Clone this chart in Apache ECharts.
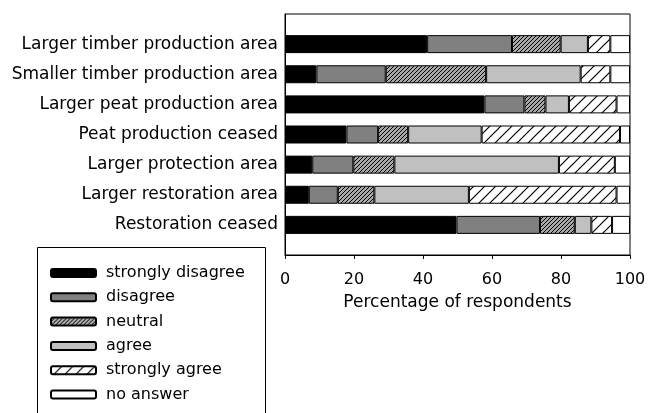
<!DOCTYPE html>
<html>
<head>
<meta charset="utf-8">
<script src="https://cdn.jsdelivr.net/npm/echarts@6/dist/echarts.min.js"></script>
<style>
  html, body { margin: 0; padding: 0; background: #fff; }
  #chart { width: 655px; height: 413px; }
</style>
</head>
<body>
<div id="chart"></div>
<script>
  // categories, top to bottom (blank entries pad the axis ends)
  const categories = ['', 'Larger timber production area', 'Smaller timber production area',
    'Larger peat production area', 'Peat production ceased', 'Larger protection area',
    'Larger restoration area', 'Restoration ceased', '']
  const answers = ['strongly disagree', 'disagree', 'neutral', 'agree', 'strongly agree', 'no answer']

  // percentages per answer, same order as categories
  const stronglyDisagree = ['-', 41.2, 9.1, 57.8, 17.8, 7.9, 6.9, 49.7, '-']
  const disagree = ['-', 24.6, 20.1, 11.6, 9.2, 11.9, 8.4, 24.2, '-']
  const neutral = ['-', 14.1, 29.1, 6.1, 8.7, 11.9, 10.6, 10.1, '-']
  const agree = ['-', 7.9, 27.4, 6.8, 21.3, 47.7, 27.4, 4.8, '-']
  const stronglyAgree = ['-', 6.5, 8.6, 13.8, 40.1, 16.2, 42.8, 6.0, '-']
  const noAnswer = ['-', 5.7, 5.7, 3.9, 2.9, 4.4, 3.9, 5.2, '-']

  const xTicks = { min: 0, max: 100, interval: 20 }

  // diagonal hatch pattern
  function hatch(bg, step, width) {
    const c = document.createElement('canvas')
    c.width = step
    c.height = step
    const ctx = c.getContext('2d')
    ctx.fillStyle = bg
    ctx.fillRect(0, 0, step, step)
    ctx.strokeStyle = '#000'
    ctx.lineWidth = width
    ctx.beginPath()
    ctx.moveTo(-1, step + 1)
    ctx.lineTo(step + 1, -1)
    ctx.moveTo(-1, 1)
    ctx.lineTo(1, -1)
    ctx.moveTo(step - 1, step + 1)
    ctx.lineTo(step + 1, step - 1)
    ctx.stroke()
    return { image: c, repeat: 'repeat' }
  }

  const fills = ['#000000', '#808080', hatch('#a8a8a8', 4, 1), '#c0c0c0', hatch('#ffffff', 11, 1.2), '#ffffff']
  const values = [stronglyDisagree, disagree, neutral, agree, stronglyAgree, noAnswer]

  const chart = echarts.init(document.getElementById('chart'))
  const font = 'DejaVu Sans, sans-serif'

  chart.setOption({
    animation: false,
    grid: {
      left: 285, right: 25, top: 14, bottom: 158,
      show: true, borderColor: '#000', borderWidth: 1,
    },
    // legend frame, runs off the bottom like the original
    graphic: [{
      type: 'rect',
      shape: { x: 37.5, y: 247.5, width: 228, height: 200 },
      style: { fill: 'none', stroke: '#000', lineWidth: 1 },
    }],
    legend: {
      orient: 'vertical',
      left: 50, top: 265,
      padding: 0,
      itemWidth: 45, itemHeight: 8, itemGap: 8.3,
      icon: 'roundRect',
      textStyle: { fontFamily: font, fontSize: 16, lineHeight: 16, color: '#000', padding: [0, 0, 0, 5] },
      data: answers,
    },
    xAxis: {
      type: 'value',
      min: xTicks.min, max: xTicks.max, interval: xTicks.interval,
      axisLine: { show: true, lineStyle: { color: '#000' } },
      axisTick: { show: true, length: 4, lineStyle: { color: '#000' } },
      splitLine: { show: false },
      axisLabel: { fontFamily: font, fontSize: 16, color: '#000', margin: 17 },
      name: 'Percentage of respondents',
      nameLocation: 'middle',
      nameGap: 39,
      nameTextStyle: { fontFamily: font, fontSize: 17, color: '#000' },
    },
    yAxis: {
      type: 'category',
      data: categories,
      inverse: true,
      boundaryGap: false,
      axisLine: { show: true, lineStyle: { color: '#000' } },
      axisTick: { show: false },
      axisLabel: { fontFamily: font, fontSize: 17, color: '#000', margin: 7 },
    },
    series: answers.map((name, i) => ({
      name: name,
      type: 'bar',
      stack: 'total',
      barWidth: 18,
      itemStyle: { color: fills[i], borderColor: '#000', borderWidth: 1 },
      data: values[i],
    })),
  })
</script>
</body>
</html>
